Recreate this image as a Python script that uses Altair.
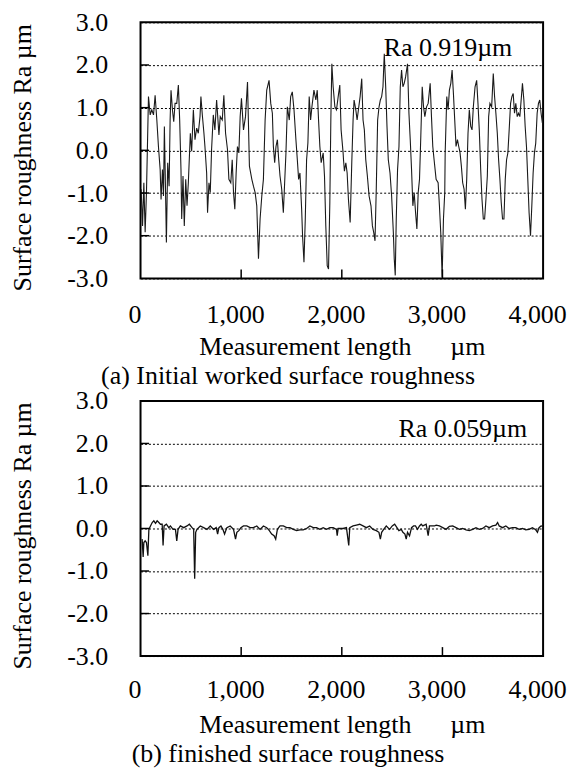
import altair as alt
import pandas as pd

FONT = "Liberation Serif"
FS = 26

# ---- (a) initial worked surface: measurement position (um) and height (um)
top_x = [6,20,33,46,59,79,96,112,129,145,162,178,195,204,218,228,237,251,257,270,
         284,294,303,317,330,343,360,376,389,402,409,422,435,449,462,475,495,508,525,541,
         558,574,591,600,614,630,640,657,666,680,693,706,723,739,756,765,779,792,812,828,
         845,864,878,897,911,924,937,950,963,977,990,1003,
         1023,1043,1063,1082,1106,1122,1139,1155,1172,1188,1205,1221,1238,1254,1277,1294,1310,1320,1333,1346,
         1360,1373,1386,1403,1419,1432,1445,1459,1478,1492,1508,1525,1544,1558,1571,1584,1601,1610,1624,1637,
         1650,1663,1676,1690,1703,1723,1742,1756,1769,1782,1795,1815,1828,1841,1855,1868,1881,1891,1901,1914,
         1931,1947,1964,1980,1993,2013,
         2017,2026,2040,2053,2066,2083,2099,2112,2122,2139,2152,2165,2182,2198,2211,2224,2238,2254,2271,2290,
         2304,2317,2330,2343,2356,2370,2383,2396,2409,2422,2436,2449,2462,2479,2495,2512,2521,2531,2541,2554,
         2568,2581,2594,2607,2620,2634,2653,2667,2680,2693,2706,2719,2733,2746,2759,2772,2785,2799,2812,2825,
         2842,2858,2878,2891,2904,2917,2937,2957,2970,2983,2997,3010,3023,
         3027,3043,3056,3069,3083,3096,3109,3122,3135,3149,3162,3175,3188,3201,3215,3228,3241,3254,3267,3281,
         3294,3307,3324,3340,3353,3366,3380,3393,3406,3419,3432,3446,3459,3472,3489,3505,3518,3531,3545,3558,
         3571,3584,3597,3611,3624,3637,3650,3663,3677,3690,3703,3716,3729,3743,3756,3769,3782,3795,3809,3822,
         3835,3848,3861,3875,3888,3901,3914,3927,3941,3954,3967,3980,3993,4000,4000]
top_y = [-0.91,-1.77,-0.76,-1.92,-0.99,1.26,0.83,0.95,0.83,1.29,0.71,0.09,-0.45,-1.15,-0.45,-1.07,0.56,-1.30,-2.16,-0.29,
         -0.84,0.71,1.41,0.95,0.67,1.10,1.10,1.53,0.71,-0.45,-1.61,-0.60,-1.77,-0.68,-1.30,-0.76,0.40,-0.02,0.95,0.25,
         0.52,0.40,0.79,1.26,0.83,0.40,0.09,-0.53,-1.46,-0.76,-0.99,0.02,0.83,0.48,1.18,0.87,0.36,0.79,0.71,1.29,
         0.40,0.02,-0.68,-0.76,-0.22,-0.99,-1.38,-0.53,0.09,-0.06,0.79,1.22,
         0.48,0.79,1.60,-0.37,-0.68,-0.84,-0.99,-1.30,-2.54,-1.61,-1.07,-0.68,0.71,1.41,1.64,1.10,0.87,0.09,-0.29,0.09,
         0.25,-0.22,-0.60,-0.91,-1.46,-0.76,-0.06,1.02,0.71,1.26,1.37,0.95,0.25,-0.22,-0.68,-0.53,-1.38,-2.00,-2.62,-1.61,
         -0.22,0.17,1.26,0.71,1.02,1.41,1.18,1.41,0.71,0.09,-0.29,-0.06,-0.60,-1.77,-2.70,-2.78,-1.22,0.71,2.03,1.49,
         1.02,0.95,1.26,1.53,0.48,-0.06,
         -0.22,-0.49,-0.29,-0.53,-1.15,-1.69,-0.29,0.71,1.18,0.95,0.71,0.95,1.26,1.68,0.71,0.48,-0.22,-0.60,-1.07,-1.30,
         -1.77,-1.92,-2.12,-0.84,0.71,1.02,1.18,1.26,1.49,2.26,1.49,0.56,-0.22,-0.53,-1.07,-1.92,-2.54,-2.93,-1.61,-0.45,
         0.09,1.49,1.88,1.49,1.57,1.72,2.03,0.87,0.25,-0.45,-1.30,-0.99,-1.46,-1.84,-0.99,-0.68,0.33,1.49,1.02,0.79,
         1.02,1.10,1.57,0.79,0.09,-0.22,-0.68,-0.76,-1.30,-1.92,-2.97,-1.61,-0.99,
         -0.06,1.26,0.95,1.41,1.57,1.88,1.33,0.71,0.09,0.25,0.09,-0.06,-0.37,-0.76,-0.91,-1.38,-0.68,0.40,0.95,0.56,
         0.48,1.02,1.49,1.64,1.10,0.48,-0.45,-1.15,-1.61,-1.61,-1.15,-0.60,0.79,1.10,1.02,1.80,1.26,0.87,0.40,-0.22,
         -0.68,-1.22,-1.61,-1.61,-0.68,-0.22,-0.06,0.48,1.10,1.26,1.33,0.87,1.10,0.79,0.87,0.79,1.18,1.57,1.18,0.56,
         0.09,-0.68,-1.46,-2.00,-1.30,-0.53,-0.06,0.17,0.87,1.10,1.18,0.87,0.64,0.80,3.00]

# ---- (b) finished surface
bot_x = [16,26,33,46,59,73,83,99,116,132,149,165,182,198,215,224,234,257,281,297,
         323,347,360,373,396,429,462,485,512,528,538,548,561,594,627,660,693,726,752,766,
         779,799,818,835,858,891,924,944,957,977,997,1023,1056,1089,1122,1155,1188,1221,1254,1280,
         1303,1327,1343,1360,1386,1419,1452,1485,1518,1551,1584,1617,1650,1683,1716,1749,1782,1815,1848,1881,
         1914,1947,1954,1964,2013,2046,2069,
         2079,2112,2145,2178,2211,2244,2277,2310,2343,2369,2383,2396,2416,2442,2475,2501,2525,2548,2567,2591,
         2607,2627,2640,2653,2673,2693,2713,2732,2752,2772,2789,2805,2838,2858,2871,2897,2921,2937,2970,3003,
         3036,3069,3102,3135,3168,3201,3234,3267,3300,3333,3366,3399,3432,3465,3498,3531,3548,3564,3597,3630,
         3663,3696,3729,3762,3795,3828,3861,3894,3927,3944,3960,3980,4000,4000]
bot_y = [-0.25,-0.67,-0.33,-0.29,-0.33,-0.64,-0.02,0.06,0.14,0.18,0.12,0.18,0.14,0.10,0.10,-0.40,0.06,0.10,0.02,0.06,
         -0.02,-0.02,-0.29,-0.02,0.06,0.02,0.06,0.10,0.02,-0.02,-1.18,-0.09,-0.02,0.06,0.02,-0.02,0.06,-0.02,0.02,-0.13,
         0.02,0.06,-0.02,-0.13,0.02,0.06,-0.02,-0.25,-0.09,-0.05,0.02,0.06,0.06,0.02,0.02,0.06,-0.02,0.06,0.02,-0.05,
         -0.13,-0.17,-0.25,-0.02,0.06,0.06,0.02,0.02,-0.02,-0.05,-0.03,-0.03,0.00,0.06,0.02,0.02,-0.02,0.02,-0.02,0.02,
         0.02,-0.02,-0.17,0.00,0.00,0.02,-0.40,
         0.02,0.06,0.08,0.10,0.06,0.02,0.06,-0.02,-0.05,-0.09,-0.25,-0.09,-0.02,0.06,-0.02,0.06,0.10,0.02,-0.05,-0.02,
         -0.09,-0.13,-0.25,-0.09,-0.17,0.02,0.06,0.06,-0.02,0.06,0.10,0.06,0.10,-0.17,0.06,0.06,0.06,0.08,0.06,0.02,
         -0.02,0.05,0.06,0.02,-0.02,0.00,-0.03,-0.05,-0.02,0.02,-0.02,0.00,0.06,0.02,0.06,0.08,0.14,0.06,0.02,0.06,
         0.00,0.02,0.02,-0.02,0.00,-0.03,-0.02,0.02,-0.03,-0.09,0.02,0.06,0.05,3.00]

y_ticks = [-3, -2, -1, 0, 1, 2, 3]
x_ticks = [0, 1000, 2000, 3000, 4000]
inner_x_ticks = [1000, 2000, 3000]
inner_y_ticks = [-2, -1, 0, 1, 2]

ra_texts = ["Ra 0.919\u00b5m", "Ra 0.059\u00b5m"]
ra_x = [3693, 3841]
ra_y = [2.20, 2.16]
captions = ["(a) Initial worked surface roughness", "(b) finished surface roughness"]

X_TITLE = "Measurement length\u00a0\u00a0\u00a0\u00a0\u00a0 \u00b5m"
Y_TITLE = "Surface roughness Ra \u00b5m"

XTICK_LEN = 0.21   # inward x tick length, in y units
YTICK_LEN = 85     # inward y tick length, in x units

xscale = alt.Scale(domain=[0, 4000], nice=False, zero=False)
yscale = alt.Scale(domain=[-3, 3], nice=False, zero=False)


def panel(xs, ys, k, height, label_pad, title_pad, cap_offset, color, sw):
    df = pd.DataFrame({"x": xs, "y": ys, "i": list(range(len(xs)))})
    xax = alt.Axis(values=x_ticks, format=",d", title=X_TITLE, grid=False, ticks=False,
                   tickSize=0, domain=False, labelPadding=label_pad, titlePadding=title_pad,
                   labelOffset=-6,
                   labelFont=FONT, labelFontSize=FS, labelColor="black",
                   titleFont=FONT, titleFontSize=FS, titleFontWeight="normal", titleColor="black",
                   labelFlush=False, labelOverlap=False)
    yax = alt.Axis(values=y_ticks, title=Y_TITLE, grid=True, gridDash=[2, 2], gridColor="black",
                   gridOpacity=1, gridWidth=1, ticks=False, tickSize=0, domain=False,
                   labelExpr="datum.value < 0 ? '-' + format(-datum.value, '.1f') : format(datum.value, '.1f')",
                   labelPadding=33, titlePadding=31, titleY=height / 2 + 7,
                   labelFont=FONT, labelFontSize=FS, labelColor="black",
                   titleFont=FONT, titleFontSize=FS, titleFontWeight="normal", titleColor="black",
                   labelFlush=False, labelOverlap=False)
    line = alt.Chart(df).mark_line(color=color, strokeWidth=sw, clip=True).encode(
        x=alt.X("x:Q", scale=xscale, axis=xax),
        y=alt.Y("y:Q", scale=yscale, axis=yax),
        order="i:Q",
    )
    ytk = alt.Chart(pd.DataFrame({"v": inner_y_ticks, "x0": [0] * 5, "x1": [YTICK_LEN] * 5})).mark_rule(
        color="black", strokeWidth=1.5).encode(
        x=alt.X("x0:Q", scale=xscale), x2="x1:Q", y=alt.Y("v:Q", scale=yscale))
    xtk = alt.Chart(pd.DataFrame({"v": inner_x_ticks, "y0": [-3] * 3, "y1": [-3 + XTICK_LEN] * 3})).mark_rule(
        color="black", strokeWidth=1.5).encode(
        x=alt.X("v:Q", scale=xscale), y=alt.Y("y0:Q", scale=yscale), y2="y1:Q")
    ra = alt.Chart(pd.DataFrame({"x": [ra_x[k]], "y": [ra_y[k]], "t": [ra_texts[k]]})).mark_text(
        align="right", baseline="alphabetic", font=FONT, fontSize=FS, color="black").encode(
        x=alt.X("x:Q", scale=xscale), y=alt.Y("y:Q", scale=yscale), text="t:N")
    return alt.layer(line, ytk, xtk, ra).properties(
        width=404, height=height,
        title=alt.TitleParams(captions[k], orient="bottom", anchor="middle", frame="bounds",
                              font=FONT, fontSize=FS, fontWeight="normal", color="black",
                              offset=cap_offset),
    )


top = panel(top_x, top_y, 0, 257, 23, 6, 4, "#1a1a1a", 1.1)
bottom = panel(bot_x, bot_y, 1, 256, 21, 9, 3, "#111111", 1.3)

chart = alt.vconcat(top, bottom, spacing=-3).configure_view(
    stroke="black", strokeWidth=2
).properties(
    padding={"top": -1, "left": 0, "right": 0, "bottom": 0},
    background="white",
)

chart.save("out.html", embed_options={"renderer": "svg", "actions": False})
